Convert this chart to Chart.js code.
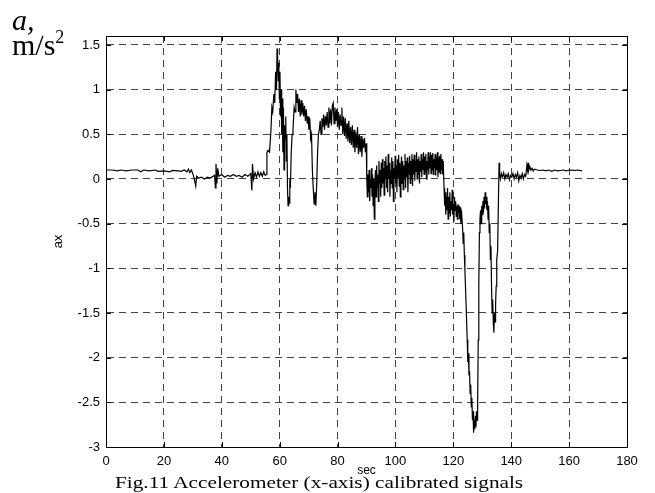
<!DOCTYPE html>
<html>
<head>
<meta charset="utf-8">
<title>Fig.11 Accelerometer (x-axis) calibrated signals</title>
<script src="https://cdn.jsdelivr.net/npm/chart.js@4.4.0/dist/chart.umd.min.js"></script>
<style>
  body { margin: 0; background: #fff; }
  #wrap { position: relative; width: 655px; height: 493px; overflow: hidden; background: #fff; }
  #chart { position: absolute; left: 0; top: 0; }
  .serif { position: absolute; font-family: "Liberation Serif", "Times New Roman", serif; color: #000; white-space: nowrap; }
  #unitA { left: 12px; top: 5px; font-size: 30px; line-height: 30px; font-style: italic; }
  #unitMs { left: 12px; top: 30px; font-size: 30px; line-height: 30px; }
  #unitMs sup { font-size: 18px; vertical-align: 0; position: relative; top: -12px; }
  #caption { left: 115px; top: 474px; font-size: 17px; line-height: 17px; transform: scaleX(1.25); transform-origin: 0 0; }
</style>
</head>
<body>
<div id="wrap">
  <canvas id="chart"></canvas>
  <div class="serif" id="unitA">a,</div>
  <div class="serif" id="unitMs">m/s<sup>2</sup></div>
  <div class="serif" id="caption">Fig.11 Accelerometer (x-axis) calibrated signals</div>
</div>
<script>
// sample times, s
const timeSec = [
  0, 2, 4, 5, 7, 9, 11, 12, 13, 15,
  17, 18, 20, 22, 23, 25, 26, 27, 28, 28.5,
  29, 29.5, 30, 30.5, 31, 31.3, 32, 33, 34, 35,
  36, 37, 37.5, 37.8, 38, 38.3, 38.6, 39, 40, 41,
  42, 43, 44, 45, 46, 47, 48, 49, 50, 50.4,
  50.6, 51, 51.5, 52, 52.5, 53, 53.5, 54, 54.5, 55,
  55.5, 55.6, 56, 56.5, 57, 57.3, 57.6, 58, 58.3, 58.6,
  58.9, 59.1, 59.3, 59.5, 59.7, 59.9, 60.1, 60.3, 60.5, 60.7,
  60.9, 61.1, 61.3, 61.5, 61.7, 61.9, 62.1, 62.3, 62.5, 62.7,
  62.9, 63.1, 63.3, 63.5, 63.7, 64, 64.3, 64.6, 65, 65.3,
  65.6, 65.9, 66.2, 66.5, 66.8, 67.1, 67.4, 67.7, 68, 68.3,
  68.6, 68.9, 69.2, 69.5, 69.8, 70.1, 70.4, 70.7, 71, 71.3,
  71.6, 71.9, 72.2, 72.5, 72.8, 73.1, 73.4, 73.7, 74, 74.3,
  74.6, 74.9, 75.2, 75.5, 75.8, 76.1, 76.4, 76.7, 77, 77.3,
  77.6, 77.9, 78.2, 78.5, 78.8, 79.1, 79.4, 79.7, 80, 80.3,
  80.6, 80.9, 81.2, 81.5, 81.8, 82.1, 82.4, 82.7, 83, 83.3,
  83.6, 83.9, 84.2, 84.5, 84.8, 85.1, 85.4, 85.7, 86, 86.3,
  86.6, 86.9, 87.2, 87.5, 87.8, 88.1, 88.4, 88.7, 89, 89.3,
  89.6, 89.9, 90.1, 90.3, 90.5, 90.7, 90.9, 91.1, 91.3, 91.5,
  91.7, 91.9, 92.1, 92.3, 92.5, 92.7, 92.9, 93.1, 93.3, 93.5,
  93.7, 93.9, 94.1, 94.3, 94.5, 94.7, 94.9, 95.1, 95.3, 95.5,
  95.7, 95.9, 96.1, 96.3, 96.5, 96.7, 96.9, 97.1, 97.3, 97.5,
  97.7, 97.9, 98.1, 98.3, 98.5, 98.7, 98.9, 99.1, 99.3, 99.5,
  99.7, 99.9, 100.1, 100.3, 100.5, 100.7, 100.9, 101.1, 101.3, 101.5,
  101.7, 101.9, 102.1, 102.3, 102.5, 102.7, 102.9, 103.1, 103.3, 103.5,
  103.7, 103.9, 104.1, 104.3, 104.5, 104.7, 104.9, 105.1, 105.3, 105.5,
  105.7, 105.9, 106.1, 106.3, 106.5, 106.7, 106.9, 107.1, 107.3, 107.5,
  107.7, 107.9, 108.1, 108.3, 108.5, 108.7, 108.9, 109.1, 109.3, 109.5,
  109.7, 109.9, 110.1, 110.3, 110.5, 110.7, 110.9, 111.1, 111.3, 111.5,
  111.7, 111.9, 112.1, 112.3, 112.5, 112.7, 112.9, 113.1, 113.3, 113.5,
  113.7, 113.9, 114.1, 114.3, 114.5, 114.7, 114.9, 115.1, 115.3, 115.5,
  115.7, 115.9, 116.1, 116.3, 116.5, 116.8, 117, 117.2, 117.4, 117.6,
  117.8, 118, 118.2, 118.4, 118.6, 118.8, 119, 119.2, 119.4, 119.6,
  119.8, 120, 120.2, 120.4, 120.6, 120.8, 121, 121.2, 121.4, 121.6,
  121.8, 122, 122.2, 122.4, 122.6, 122.8, 123.2, 123.4, 123.6, 123.8,
  124, 124.3, 124.6, 124.8, 125, 125.2, 125.4, 125.6, 125.8, 126,
  126.2, 126.4, 126.6, 126.8, 127, 127.2, 127.4, 127.6, 127.8, 128,
  128.2, 128.4, 128.6, 128.8, 129, 129.2, 129.4, 129.6, 129.8, 130,
  130.2, 130.4, 130.6, 130.8, 131, 131.2, 131.4, 131.6, 131.8, 132,
  132.2, 132.4, 132.6, 132.8, 133, 133.2, 133.4, 133.6, 133.8, 134,
  134.2, 134.4, 134.6, 134.8, 135, 135.3, 135.6, 135.8, 136, 136.3,
  136.6, 137, 137.4, 137.8, 138.2, 138.6, 139, 139.4, 139.8, 140.2,
  140.6, 141, 141.4, 141.8, 142.2, 142.6, 143, 143.4, 143.8, 144.2,
  144.6, 145, 145.4, 145.6, 145.8, 146, 146.4, 146.8, 147.2, 147.6,
  148, 149, 150, 151, 152, 153, 154, 155, 156, 157,
  158, 159, 160, 162, 163, 164.5
];

// calibrated x-axis acceleration, m/s^2
const axValues = [
  0.1, 0.1, 0.09, 0.1, 0.09, 0.1, 0.1, 0.08, 0.1, 0.09,
  0.1, 0.085, 0.09, 0.08, 0.095, 0.09, 0.085, 0.1, 0.08, 0.11,
  0.07, 0.1, 0.06, 0.0, -0.08, 0.03, 0.01, 0.02, 0.0, 0.02,
  0.01, 0.03, 0.04, -0.1, 0.17, -0.05, 0.12, 0.03, 0.05, 0.02,
  0.04, 0.03, 0.05, 0.03, 0.04, 0.02, 0.05, 0.03, 0.06, -0.13,
  0.17, 0.0, 0.07, 0.02, 0.08, 0.03, 0.07, 0.03, 0.08, 0.04,
  0.05, 0.3, 0.32, 0.3, 0.55, 0.8, 0.75, 0.95, 0.85, 1.2,
  1.0, 1.46, 1.38, 1.1, 1.3, 0.9, 1.2, 0.7, 1.0, 0.5,
  0.9, 0.3, 0.8, 0.1, 0.6, 0.45, 0.7, 0.2, 0.5, -0.1,
  -0.3, -0.2, -0.27, 0.0, -0.1, 0.3, 0.5, 0.55, 0.8, 0.75,
  1.0, 0.85, 0.95, 0.75, 0.9, 0.7, 0.88, 0.72, 0.85, 0.7,
  0.82, 0.65, 0.78, 0.62, 0.7, 0.55, 0.68, 0.45, 0.5, 0.1,
  -0.1, -0.28, -0.15, -0.3, -0.05, 0.3, 0.5, 0.55, 0.65, 0.5,
  0.68, 0.58, 0.72, 0.55, 0.7, 0.6, 0.75, 0.58, 0.8, 0.62,
  0.78, 0.6, 0.82, 0.85, 0.62, 0.8, 0.65, 0.78, 0.58, 0.75,
  0.55, 0.72, 0.6, 0.8, 0.5, 0.7, 0.48, 0.68, 0.45, 0.62,
  0.42, 0.65, 0.4, 0.58, 0.38, 0.6, 0.35, 0.55, 0.3, 0.52,
  0.35, 0.58, 0.28, 0.5, 0.3, 0.48, 0.25, 0.45, 0.35, 0.46,
  0.3, 0.4, 0.0, -0.2, 0.05, -0.15, 0.1, -0.25, 0.0, -0.1,
  0.12, -0.2, 0.05, -0.3, 0.0, -0.45, -0.05, 0.1, -0.2, 0.15,
  -0.1, 0.05, -0.25, 0.2, -0.05, 0.1, -0.2, 0.18, -0.1, 0.22,
  -0.05, 0.12, -0.18, 0.2, 0.0, 0.25, -0.1, 0.15, -0.15, 0.28,
  0.0, 0.18, -0.2, 0.1, -0.05, 0.24, -0.1, 0.2, -0.25, 0.12,
  0.0, 0.26, -0.05, 0.15, -0.15, 0.22, 0.02, 0.27, -0.08, 0.18,
  -0.2, 0.1, 0.25, -0.05, 0.2, -0.12, 0.15, 0.0, 0.28, -0.1,
  0.2, 0.02, 0.24, -0.15, 0.18, 0.05, 0.26, -0.05, 0.2, 0.0,
  0.28, -0.08, 0.22, 0.05, 0.27, -0.02, 0.2, 0.08, 0.3, 0.0,
  0.22, 0.05, 0.25, -0.05, 0.2, 0.08, 0.28, 0.02, 0.22, 0.1,
  0.3, 0.05, 0.25, 0.08, 0.28, 0.0, 0.2, 0.1, 0.3, 0.05,
  0.25, 0.12, 0.3, 0.06, 0.27, 0.1, 0.29, 0.05, 0.22, 0.12,
  0.28, 0.04, 0.25, 0.1, 0.3, 0.02, 0.24, 0.08, 0.26, 0.06,
  0.28, 0.1, 0.22, 0.05, 0.2, -0.1, -0.3, -0.15, -0.4, -0.2,
  -0.35, -0.1, -0.45, -0.2, -0.38, -0.15, -0.42, -0.25, -0.35, -0.12,
  -0.4, -0.28, -0.48, -0.2, -0.35, -0.25, -0.42, -0.3, -0.45, -0.28,
  -0.38, -0.3, -0.45, -0.32, -0.5, -0.35, -0.55, -0.72, -0.6, -0.85,
  -1.02, -1.3, -1.6, -1.8, -2.05, -1.95, -2.2, -2.15, -2.4, -2.3,
  -2.55, -2.45, -2.7, -2.6, -2.84, -2.7, -2.8, -2.65, -2.78, -2.6,
  -2.7, -2.5, -1.8, -1.2, -0.6, -0.45, -0.35, -0.5, -0.3, -0.4,
  -0.25, -0.38, -0.2, -0.33, -0.15, -0.28, -0.2, -0.35, -0.25, -0.45,
  -0.3, -0.6, -0.5, -0.9, -0.75, -1.2, -1.5, -1.35, -1.6, -1.72,
  -1.5, -1.6, -1.4, -1.2, -0.9, -0.8, -0.2, 0.18, 0.05, 0.0,
  0.06, 0.02, 0.07, 0.0, 0.05, 0.02, 0.06, -0.01, 0.04, 0.02,
  0.06, 0.0, 0.05, 0.02, 0.07, -0.02, 0.04, 0.01, 0.06, 0.0,
  0.05, 0.03, 0.15, 0.1, 0.18, 0.09, 0.14, 0.1, 0.12, 0.09,
  0.11, 0.1, 0.095, 0.1, 0.09, 0.1, 0.085, 0.1, 0.09, 0.095,
  0.1, 0.09, 0.1, 0.095, 0.1, 0.09
];

const xTickValues = [0, 20, 40, 60, 80, 100, 120, 140, 160, 180];
const xTickLabels = ['0', '20', '40', '60', '80', '100', '120', '140', '160', '180'];
const yTickValues = [-3, -2.5, -2, -1.5, -1, -0.5, 0, 0.5, 1, 1.5];
const yTickLabels = ['-3', '-2.5', '-2', '-1.5', '-1', '-0.5', '0', '0.5', '1', '1.5'];

const tickFont = { family: '"Liberation Sans", Arial, sans-serif', size: 13 };

// box round the axes, inward tick marks and the two axis names
const axesBox = {
  id: 'axesBox',
  afterDraw(chart) {
    const { ctx, chartArea: a, scales } = chart;
    ctx.save();
    ctx.strokeStyle = '#000';
    ctx.lineWidth = 1;
    ctx.strokeRect(Math.round(a.left) + 0.5, Math.round(a.top) + 0.5,
      Math.round(a.right - a.left), Math.round(a.bottom - a.top));

    ctx.beginPath();
    xTickValues.forEach(v => {
      const px = Math.round(scales.x.getPixelForValue(v)) + 0.5;
      ctx.moveTo(px, a.bottom); ctx.lineTo(px, a.bottom - 5);
      ctx.moveTo(px, a.top); ctx.lineTo(px, a.top + 5);
    });
    yTickValues.forEach(v => {
      const py = Math.round(scales.y.getPixelForValue(v)) + 0.5;
      ctx.moveTo(a.left, py); ctx.lineTo(a.left + 5, py);
      ctx.moveTo(a.right, py); ctx.lineTo(a.right - 5, py);
    });
    ctx.stroke();

    ctx.fillStyle = '#000';
    ctx.font = '12px "Liberation Sans", Arial, sans-serif';
    ctx.textAlign = 'center';
    ctx.textBaseline = 'middle';
    ctx.fillText('sec', (a.left + a.right) / 2, 471);
    ctx.translate(58, (a.top + a.bottom) / 2);
    ctx.rotate(-Math.PI / 2);
    ctx.font = '13px "Liberation Sans", Arial, sans-serif';
    ctx.fillText('ax', 0, 0);
    ctx.restore();
  }
};

const points = timeSec.map((t, i) => ({ x: t, y: axValues[i] }));

new Chart(document.getElementById('chart'), {
  type: 'line',
  data: {
    datasets: [{
      data: points,
      borderColor: '#000',
      borderWidth: 1.2,
      pointRadius: 0,
      tension: 0,
      fill: false
    }]
  },
  options: {
    responsive: true,
    maintainAspectRatio: false,
    animation: false,
    layout: { padding: { top: 36, right: 28, left: 0, bottom: 0 } },
    plugins: { legend: { display: false }, tooltip: { enabled: false } },
    scales: {
      x: {
        type: 'linear',
        min: 0,
        max: 180,
        afterBuildTicks: s => { s.ticks = xTickValues.map(v => ({ value: v })); },
        afterFit: s => { s.height = 46; },
        grid: { color: '#444', lineWidth: 1, drawTicks: false },
        border: { display: true, color: '#000', dash: [7, 5] },
        ticks: {
          color: '#000',
          padding: 7,
          autoSkip: false,
          maxRotation: 0,
          font: tickFont,
          callback: (v, i) => xTickLabels[i]
        }
      },
      y: {
        type: 'linear',
        min: -3,
        max: 1.6,
        afterBuildTicks: s => { s.ticks = yTickValues.map(v => ({ value: v })); },
        afterFit: s => { s.width = 106; },
        grid: { color: '#444', lineWidth: 1, drawTicks: false },
        border: { display: true, color: '#000', dash: [7, 5] },
        ticks: {
          color: '#000',
          padding: 6,
          autoSkip: false,
          font: tickFont,
          callback: (v, i) => yTickLabels[i]
        }
      }
    }
  },
  plugins: [axesBox]
});
</script>
</body>
</html>
